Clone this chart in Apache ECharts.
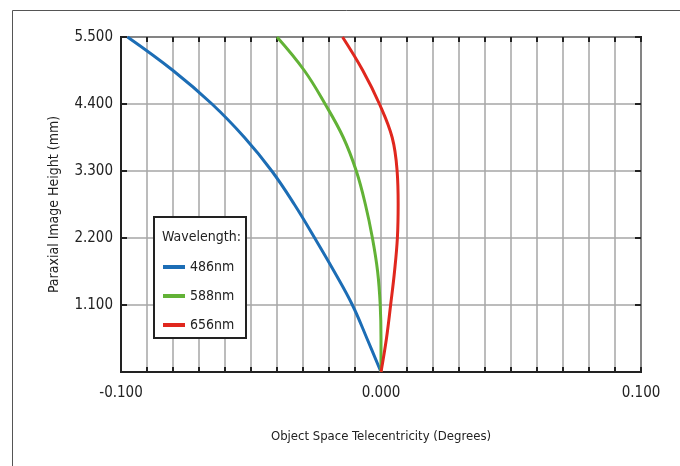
<!DOCTYPE html>
<html style="height: 100%">
<head>
    <meta charset="utf-8">
    <script src="https://cdn.jsdelivr.net/npm/echarts@6/dist/echarts.min.js"></script>
</head>
<body style="height: 100%; margin: 0; background: #fff">
    <div id="container" style="width: 680px; height: 466px"></div>
    <script type="text/javascript">
        // image height (mm), shared by all three curves
        var heights = [0, 0.55, 1.1, 1.65, 2.2, 2.75, 3.3, 3.85, 4.4, 4.95, 5.5];
        // telecentricity (degrees) per wavelength
        var wl486 = [0, -0.0054, -0.0110, -0.0180, -0.0255, -0.0333, -0.0420, -0.0525, -0.0650, -0.0800, -0.0975];
        var wl588 = [0, 0, -0.0003, -0.0013, -0.0033, -0.0060, -0.0095, -0.0145, -0.0215, -0.0295, -0.0400];
        var wl656 = [0, 0.0021, 0.0037, 0.0052, 0.0063, 0.0066, 0.0062, 0.0043, -0.0006, -0.0070, -0.0148];
        var names = ['486nm', '588nm', '656nm'];
        var colors = ['#1c6db5', '#62b236', '#e0271e'];

        var font = "'Liberation Sans Narrow', 'DejaVu Sans Condensed', 'Roboto Condensed', sans-serif";

        function pairs(vals) {
            return vals.map(function (v, i) { return [v, heights[i]]; });
        }

        var tickStyle = { color: '#222', width: 2 };
        var gridLine = { color: '#a6a6a6', width: 1.5 };

        var dom = document.getElementById("container");
        var myChart = echarts.init(dom);
        var option = {
            backgroundColor: '#fff',
            animation: false,
            grid: {
                left: 121, right: 39, top: 37, bottom: 94,
                show: true, borderColor: '#222', borderWidth: 2, backgroundColor: 'transparent'
            },
            graphic: [
                { type: 'rect', left: 10, top: 8, z: 0, silent: true,
                  shape: { width: 720, height: 500 },
                  style: { fill: 'none', stroke: '#555', lineWidth: 1 } },
                { type: 'rect', left: 153, top: 216, z: 3,
                  shape: { width: 92, height: 121 },
                  style: { fill: '#fff', stroke: '#222', lineWidth: 2 } },
                { type: 'text', left: 162, top: 230, z: 5,
                  style: { text: 'Wavelength:', font: '14px ' + font, fill: '#222' } }
            ],
            legend: {
                data: names,
                orient: 'vertical',
                left: 158, top: 255,
                itemWidth: 22, itemHeight: 4, itemGap: 15,
                icon: 'rect',
                selectedMode: false,
                z: 4,
                textStyle: { fontFamily: font, fontSize: 14, color: '#222' }
            },
            xAxis: [{
                type: 'value', min: -0.1, max: 0.1, interval: 0.1,
                name: 'Object Space Telecentricity (Degrees)',
                nameLocation: 'middle', nameGap: 58,
                nameTextStyle: { fontFamily: font, fontSize: 13, color: '#222' },
                axisLine: { show: true, onZero: false, lineStyle: { color: '#222', width: 2 } },
                axisTick: { show: true, inside: true, length: 5, lineStyle: tickStyle },
                minorTick: { show: true, splitNumber: 10, length: 5, lineStyle: tickStyle },
                splitLine: { show: true, lineStyle: gridLine },
                minorSplitLine: { show: true, lineStyle: gridLine },
                axisLabel: {
                    margin: 14, fontFamily: font, fontSize: 15, color: '#222',
                    formatter: function (v) { return v.toFixed(3); }
                }
            }, {
                type: 'value', min: -0.1, max: 0.1, interval: 0.1, position: 'top',
                axisLine: { show: false, onZero: false },
                axisTick: { show: true, inside: true, length: 5, lineStyle: tickStyle },
                minorTick: { show: true, splitNumber: 10, length: 5, lineStyle: tickStyle },
                splitLine: { show: false },
                axisLabel: { show: false }
            }],
            yAxis: [{
                type: 'value', min: 0, max: 5.5, interval: 1.1,
                name: 'Paraxial Image Height (mm)',
                nameLocation: 'middle', nameGap: 60,
                nameTextStyle: { fontFamily: font, fontSize: 14, color: '#222' },
                axisLine: { show: true, onZero: false, lineStyle: { color: '#222', width: 2 } },
                axisTick: { show: true, inside: true, length: 6, lineStyle: tickStyle },
                splitLine: { show: true, lineStyle: gridLine },
                axisLabel: {
                    margin: 8, fontFamily: font, fontSize: 15, color: '#222',
                    formatter: function (v) { return v === 0 ? '' : v.toFixed(3); }
                }
            }, {
                type: 'value', min: 0, max: 5.5, interval: 1.1, position: 'right',
                axisLine: { show: false, onZero: false },
                axisTick: { show: true, inside: true, length: 6, lineStyle: tickStyle },
                splitLine: { show: false },
                axisLabel: { show: false }
            }],
            series: [wl486, wl588, wl656].map(function (vals, i) {
                return {
                    name: names[i],
                    type: 'line',
                    data: pairs(vals),
                    smooth: 0.4,
                    showSymbol: false,
                    color: colors[i],
                    lineStyle: { width: 3, color: colors[i] }
                };
            })
        };
        myChart.setOption(option, true);
    </script>
</body>
</html>
